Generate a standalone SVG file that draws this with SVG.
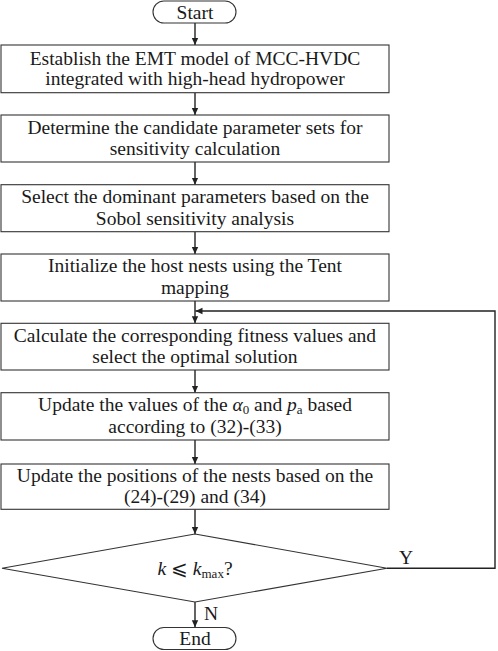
<svg xmlns="http://www.w3.org/2000/svg" width="498" height="651" viewBox="0 0 498 651">
<style>
.b{fill:#fff;stroke:#333;stroke-width:1.1}
.t{font-family:"Liberation Serif","Times New Roman",serif;font-size:19.5px;fill:#1a1a1a;text-anchor:middle}
.c{fill:none;stroke:#222;stroke-width:1.4}
.s{font-size:13px}
</style>
<defs>
<marker id="ah" markerWidth="8" markerHeight="8" refX="7" refY="4" orient="auto" markerUnits="userSpaceOnUse">
<path d="M0,0.8 L7,4 L0,7.2 Z" fill="#222"/>
</marker>
</defs>
<rect width="498" height="651" fill="#fff"/>
<g id="connectors">
<line class="c" x1="195" y1="23" x2="195" y2="45" marker-end="url(#ah)"/>
<line class="c" x1="195" y1="92.7" x2="195" y2="115" marker-end="url(#ah)"/>
<line class="c" x1="195" y1="162" x2="195" y2="184.7" marker-end="url(#ah)"/>
<line class="c" x1="195" y1="231.7" x2="195" y2="254" marker-end="url(#ah)"/>
<line class="c" x1="195" y1="301" x2="195" y2="323.3" marker-end="url(#ah)"/>
<line class="c" x1="195" y1="370" x2="195" y2="392.7" marker-end="url(#ah)"/>
<line class="c" x1="195" y1="440" x2="195" y2="464" marker-end="url(#ah)"/>
<line class="c" x1="195" y1="509.3" x2="195" y2="534" marker-end="url(#ah)"/>
<line class="c" x1="195" y1="602" x2="195" y2="627.3" marker-end="url(#ah)"/>
<polyline class="c" points="387,568.3 495,568.3 495,311 195.5,311" marker-end="url(#ah)"/>
<text class="t" x="406" y="563.5">Y</text>
<text class="t" x="211" y="620">N</text>
</g>
<g id="start">
<rect class="b" x="153" y="1" width="83" height="22" rx="11"/>
<text class="t" x="195" y="18.5">Start</text>
</g>
<g id="n1">
<rect class="b" x="1" y="45" width="388" height="47.7"/>
<text class="t" x="195" y="64.5">Establish the EMT model of MCC-HVDC</text>
<text class="t" x="195" y="85">integrated with high-head hydropower</text>
</g>
<g id="n2">
<rect class="b" x="1" y="115" width="388" height="47"/>
<text class="t" x="195" y="133.5">Determine the candidate parameter sets for</text>
<text class="t" x="195" y="155">sensitivity calculation</text>
</g>
<g id="n3">
<rect class="b" x="1" y="184.7" width="388" height="47"/>
<text class="t" x="195" y="203">Select the dominant parameters based on the</text>
<text class="t" x="195" y="224.5">Sobol sensitivity analysis</text>
</g>
<g id="n4">
<rect class="b" x="1" y="254" width="388" height="47"/>
<text class="t" x="195" y="272">Initialize the host nests using the Tent</text>
<text class="t" x="195" y="293.5">mapping</text>
</g>
<g id="n5">
<rect class="b" x="1" y="323.3" width="388" height="46.7"/>
<text class="t" x="195" y="341.5">Calculate the corresponding fitness values and</text>
<text class="t" x="195" y="363">select the optimal solution</text>
</g>
<g id="n6">
<rect class="b" x="1" y="392.7" width="388" height="47.3"/>
<text class="t" x="195" y="411">Update the values of the <tspan font-style="italic">α</tspan><tspan class="s" dy="3">0</tspan><tspan dy="-3"> and </tspan><tspan font-style="italic">p</tspan><tspan class="s" dy="3">a</tspan><tspan dy="-3"> based</tspan></text>
<text class="t" x="195" y="433">according to (32)-(33)</text>
</g>
<g id="n7">
<rect class="b" x="1" y="464" width="388" height="45.3"/>
<text class="t" x="195" y="481.5">Update the positions of the nests based on the</text>
<text class="t" x="195" y="502.5">(24)-(29) and (34)</text>
</g>
<g id="decision">
<polygon class="b" points="195,534 387,568.3 195,602 2,568.3"/>
<text class="t" x="195" y="575"><tspan font-style="italic">k</tspan> ⩽ <tspan font-style="italic">k</tspan><tspan class="s" dy="3">max</tspan><tspan dy="-3">?</tspan></text>
</g>
<g id="end">
<rect class="b" x="153" y="627.5" width="83" height="22" rx="11"/>
<text class="t" x="195" y="645">End</text>
</g>
</svg>
